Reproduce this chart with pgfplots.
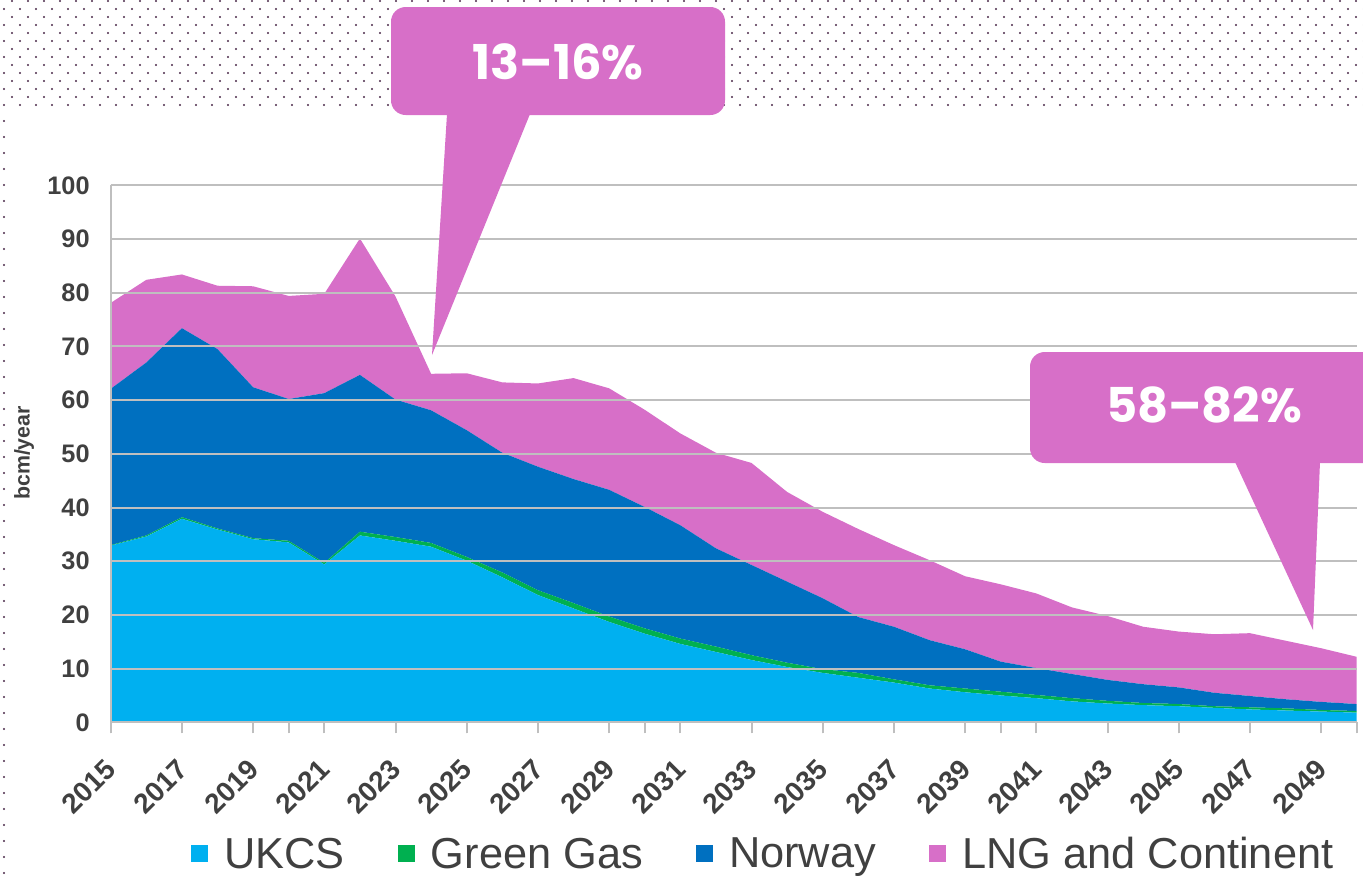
\documentclass[border=0pt]{standalone}
\usepackage{fontspec}
\setmainfont{Liberation Sans}
\newfontfamily\pop{Poppins}
\usepackage{pgfplots}
\pgfplotsset{compat=1.18}
\usepackage{pgfplotstable}

\definecolor{ukcs}{HTML}{00B0F0}
\definecolor{ggas}{HTML}{00B050}
\definecolor{norway}{HTML}{0070C0}
\definecolor{lng}{HTML}{D76FC8}
\definecolor{gridgrey}{HTML}{BFBFBF}
\definecolor{txt}{HTML}{404040}
\definecolor{dotc}{HTML}{4A2848}

% bcm/year by source
\pgfplotstableread{
year ukcs green norway lng
2015 32.9 0.1 29.1 16.0
2016 34.6 0.2 32.2 15.4
2017 37.9 0.3 35.2 10.0
2018 35.9 0.2 33.4 11.8
2019 34.1 0.2 28.1 18.8
2020 33.5 0.3 26.4 19.2
2021 29.4 0.3 31.6 18.5
2022 34.8 0.7 29.2 25.4
2023 33.8 0.7 25.6 19.2
2024 32.7 0.7 24.7 6.8
2025 30.1 0.7 23.6 10.6
2026 27.0 0.9 22.3 13.1
2027 23.7 0.9 23.0 15.5
2028 21.2 1.0 23.1 18.8
2029 18.7 1.0 23.6 18.9
2030 16.5 1.0 22.6 18.1
2031 14.6 1.0 21.1 17.1
2032 13.1 1.0 18.3 17.8
2033 11.6 0.9 16.8 19.0
2034 10.3 0.8 15.1 16.7
2035 9.2 0.7 13.2 16.1
2036 8.3 0.9 10.4 16.4
2037 7.4 0.6 9.8 15.2
2038 6.3 0.6 8.4 14.9
2039 5.6 0.7 7.3 13.6
2040 5.0 0.7 5.6 14.4
2041 4.5 0.6 5.0 13.9
2042 3.9 0.6 4.5 12.4
2043 3.5 0.5 3.9 11.9
2044 3.2 0.4 3.5 10.7
2045 3.0 0.4 3.1 10.4
2046 2.7 0.3 2.5 10.9
2047 2.4 0.4 2.1 11.7
2048 2.2 0.4 1.7 10.9
2049 2.0 0.3 1.5 10.0
2050 1.8 0.3 1.3 8.8
}\gas

\begin{document}
\begin{tikzpicture}
\begin{scope}[x=0.75pt,y=-0.75pt]
  % dotted background
  \foreach \r in {0,...,13} {
    \pgfmathsetmacro\yy{1+8*\r}
    \pgfmathsetmacro\xo{12-8*mod(\r,2)}
    \foreach \c in {0,...,85} {\fill[dotc] (\xo+16*\c,\yy) circle (0.8pt);}
  }
  \foreach \yy in {121,137,...,876} {\fill[dotc] (4,\yy) circle (0.8pt);}
\end{scope}

\begin{axis}[
  at={(83.025pt,-541.725pt)}, anchor=south west,
  width=934.5pt, height=402.75pt, scale only axis,
  xmin=2015, xmax=2050, ymin=0, ymax=100,
  axis x line*=bottom, axis y line*=left,
  axis line style={draw=gridgrey, line width=1.5pt},
  ymajorgrids, major grid style={draw=gridgrey, line width=1.5pt},
  ytick={0,10,...,100},
  ytick style={draw=none},
  xtick={2015,2020,...,2050}, xticklabels={},
  tick align=outside, major tick length=8.25pt,
  xtick style={draw=gridgrey, line width=1.5pt},
  extra x ticks={2015,2017,...,2049},
  extra x tick style={tick style={draw=none},
    xticklabel style={font=\fontsize{21}{24}\selectfont\bfseries,
      xshift=-5pt, yshift=-18pt, rotate=45, anchor=north east, inner sep=0pt}},
  /pgf/number format/1000 sep={},
  /pgf/number format/assume math mode=true,
  tick label style={font=\fontsize{19}{22}\selectfont\bfseries, text=txt},
  yticklabel style={xshift=-4pt},
  stack plots=y, area style,
  legend columns=4,
  legend style={at={(0.524,-0.245)}, anchor=center, draw=none, fill=none,
    font=\fontsize{32.5}{37}\selectfont, text=txt,
    /tikz/every odd column/.append style={column sep=10pt},
    /tikz/every even column/.append style={column sep=38pt}},
  legend image code/.code={\fill[#1] (0pt,-6.4pt) rectangle (12.75pt,6.4pt);},
]
\addplot[fill=ukcs, draw=none] table[x=year,y=ukcs]{\gas} \closedcycle;
\addplot[fill=ggas, draw=none] table[x=year,y=green]{\gas} \closedcycle;
\addplot[fill=norway, draw=none] table[x=year,y=norway]{\gas} \closedcycle;
\addplot[fill=lng, draw=none] table[x=year,y=lng]{\gas} \closedcycle;
\legend{UKCS, Green Gas, Norway, LNG and Continent}
\end{axis}

\begin{scope}[x=0.75pt,y=-0.75pt]
  \node[rotate=90, font=\fontsize{16}{18}\selectfont\bfseries, text=txt] at (24,453) {bcm/year};
  % callouts
  \fill[lng, rounded corners=11pt] (391,7) rectangle (725,115);
  \fill[lng] (447,114) -- (432,355) -- (530,114) -- cycle;
  \node[text=white, font=\pop\bfseries\fontsize{36}{40}\selectfont] at (558,62) {13–16\%};
  \fill[lng, rounded corners=11pt] (1030,352) rectangle (1400,463);
  \fill[lng] (1235,462) -- (1313,630) -- (1320,462) -- cycle;
  \node[text=white, font=\pop\bfseries\fontsize{36}{40}\selectfont] at (1204,405) {58–82\%};
  \pgfresetboundingbox
  \useasboundingbox (0,0) rectangle (1363,876);
\end{scope}
\end{tikzpicture}
\end{document}
